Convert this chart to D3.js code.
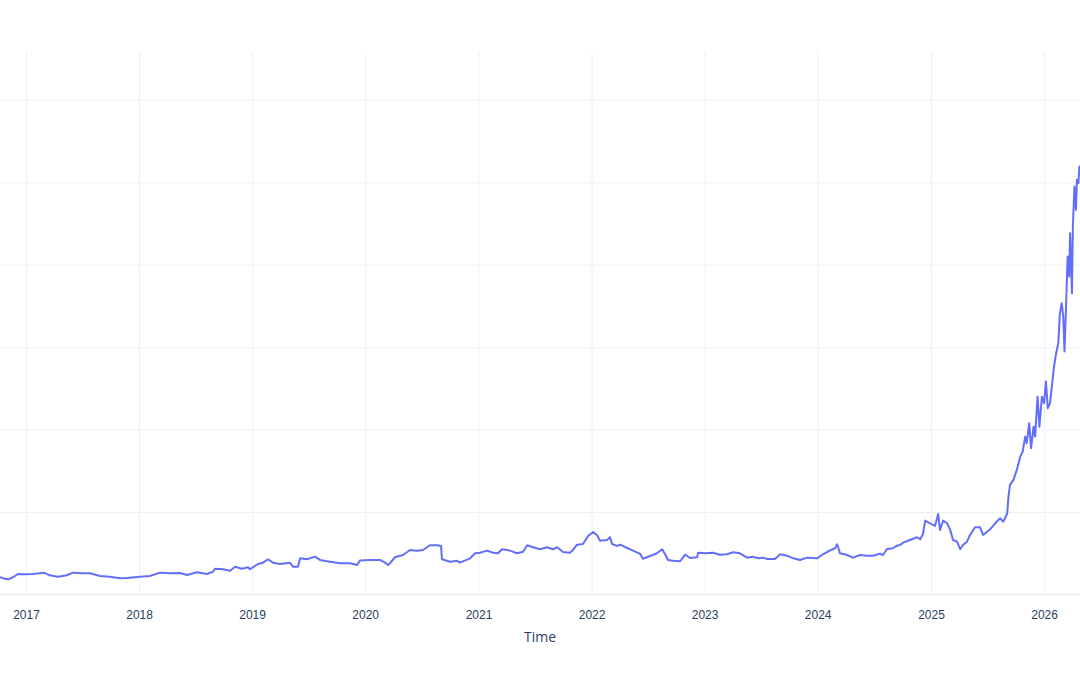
<!DOCTYPE html>
<html>
<head>
<meta charset="utf-8">
<script src="https://cdn.jsdelivr.net/npm/d3@7"></script>
<style>
  body { margin:0; background:#fff; }
  svg { display:block; font-family:"Open Sans", verdana, arial, sans-serif; }
</style>
</head>
<body>
<script>
// roughly one point per couple of weeks (denser at the end)
var dates = [
  "2016-10-09","2016-10-25","2016-11-04","2016-11-20","2016-12-06","2016-12-29",
  "2017-01-23","2017-02-28","2017-03-19","2017-04-14","2017-05-13","2017-06-02","2017-07-04","2017-07-27",
  "2017-08-28","2017-09-29","2017-10-31","2017-11-23",
  "2018-01-04","2018-02-05","2018-03-10","2018-04-11","2018-05-13","2018-06-05","2018-07-07","2018-08-08",
  "2018-08-28","2018-09-03","2018-09-29","2018-10-22","2018-11-07","2018-11-29","2018-12-19","2018-12-25",
  "2019-01-20","2019-02-05","2019-02-21","2019-03-09","2019-04-01","2019-05-03","2019-05-13","2019-05-29",
  "2019-06-05","2019-06-27","2019-07-23","2019-08-08","2019-09-09","2019-10-12","2019-11-13","2019-12-06","2019-12-15",
  "2020-01-17","2020-02-18","2020-03-05","2020-03-15","2020-03-21","2020-04-06","2020-05-02","2020-05-25",
  "2020-06-16","2020-07-06","2020-07-28","2020-08-20","2020-09-02","2020-09-05","2020-10-01","2020-10-24",
  "2020-11-02","2020-12-05","2020-12-21",
  "2021-01-06","2021-01-28","2021-02-17","2021-03-05","2021-03-18","2021-04-13","2021-05-05","2021-05-25",
  "2021-06-07","2021-06-26","2021-07-19","2021-08-10","2021-08-30","2021-09-12","2021-10-01","2021-10-23",
  "2021-11-02","2021-11-15","2021-12-04","2021-12-21",
  "2022-01-06","2022-01-19","2022-01-28","2022-02-20","2022-03-02","2022-03-08","2022-03-24","2022-04-03",
  "2022-04-26","2022-05-15","2022-06-07","2022-06-16","2022-07-09","2022-07-31","2022-08-17","2022-08-26",
  "2022-09-05","2022-09-21","2022-10-14","2022-10-30","2022-11-15","2022-12-08","2022-12-11",
  "2023-01-02","2023-01-28","2023-02-20","2023-03-14","2023-04-03","2023-04-25","2023-05-18","2023-06-06",
  "2023-06-23","2023-07-09","2023-07-22","2023-08-16","2023-09-02","2023-09-24","2023-10-14","2023-11-05",
  "2023-11-28","2023-12-30",
  "2024-01-18","2024-02-10","2024-02-26","2024-03-04","2024-03-13","2024-04-05","2024-04-24","2024-05-17",
  "2024-06-08","2024-06-28","2024-07-20","2024-07-30","2024-08-12","2024-08-31","2024-09-13","2024-09-23",
  "2024-10-03","2024-10-25","2024-11-17","2024-11-27","2024-12-06","2024-12-13","2024-12-29",
  "2025-01-14","2025-01-24","2025-01-30","2025-02-09","2025-02-22","2025-03-04","2025-03-13","2025-03-26",
  "2025-04-05","2025-04-14","2025-04-27","2025-05-07","2025-05-23","2025-06-08","2025-06-18","2025-07-01",
  "2025-07-11","2025-07-27","2025-08-12","2025-08-22","2025-08-28","2025-09-04","2025-09-08","2025-09-13",
  "2025-09-24","2025-10-05","2025-10-16","2025-10-24","2025-11-01","2025-11-06","2025-11-14","2025-11-20",
  "2025-11-28","2025-12-03","2025-12-11","2025-12-17","2025-12-25",
  "2026-01-01","2026-01-07","2026-01-13","2026-01-20","2026-01-26","2026-02-02","2026-02-09","2026-02-16",
  "2026-02-21","2026-02-27","2026-03-04","2026-03-08","2026-03-13","2026-03-18","2026-03-23","2026-03-26",
  "2026-04-01","2026-04-04","2026-04-09","2026-04-14","2026-04-17","2026-04-22","2026-04-25","2026-04-27"
];

var prices = [
  20.9,19.2,18.4,20.9,24.9,24.5,
  24.9,26.5,23.3,21.6,23.3,26.5,25.7,25.7,
  22.5,21.6,19.7,20.0,
  21.6,22.5,26.5,25.7,26.0,23.7,26.9,24.9,
  27.7,31.3,30.6,28.9,33.7,31.3,33.0,30.6,
  37.0,38.6,42.7,38.6,37.0,38.6,33.7,33.7,
  43.9,42.7,45.9,41.9,39.8,37.9,37.9,35.8,41.3,
  41.9,41.9,38.6,35.8,37.9,45.1,47.9,54.0,
  53.2,54.0,59.7,59.7,58.9,42.7,39.8,41.0,
  38.6,43.9,50.0,
  50.7,53.2,50.7,50.0,54.9,53.2,50.0,51.9,
  59.7,57.3,54.9,57.3,54.9,57.3,51.6,50.7,
  54.0,60.4,61.3,71.0,
  75.8,71.8,65.3,66.1,69.4,61.3,58.9,60.4,
  56.4,53.2,49.2,43.4,46.7,50.0,54.9,49.2,
  41.9,41.0,40.3,48.3,44.3,45.1,50.7,
  50.0,50.7,48.3,48.8,51.2,50.0,44.7,45.9,
  43.9,44.7,43.1,43.1,48.8,47.1,43.9,41.9,
  44.7,43.9,
  48.8,53.6,56.1,60.9,50.0,47.9,44.7,47.9,
  47.1,47.1,49.5,47.9,55.2,56.1,59.2,60.1,
  62.9,66.1,69.4,67.0,73.4,89.6,86.4,
  83.1,97.7,78.3,89.6,86.4,78.3,66.1,64.1,
  54.9,60.1,64.1,72.2,81.6,81.6,72.2,76.2,
  79.1,86.4,92.5,88.3,92.5,98.5,118.7,132.9,
  139.0,151.1,167.2,173.3,191.5,183.5,207.8,177.4,
  203.6,191.5,240.0,203.6,240.0,
  232.0,258.3,226.0,232.0,252.2,276.5,292.7,304.9,
  341.3,353.4,337.1,294.7,349.3,410.0,385.7,438.3,
  365.5,446.4,494.9,466.6,503.0,499.0,519.2,512.7
];

var yTicks = [100,200,300,400,500,600];
var yearTicks = ["2017","2018","2019","2020","2021","2022","2023","2024","2025","2026"];
var xTitle = "Time";

var width = 1080;
var height = 675;

var margins = {
  top:52,
  bottom:80.5,
  left:0,
  right:0
}

var parseDate = d3.timeParse("%Y-%m-%d");

var drawChart = function()
{
  var data = dates.map(function(d,i){
    return {date:parseDate(d), price:prices[i]};
  });

  var svg = d3.select("body").append("svg")
              .attr("width",width)
              .attr("height",height);

  var plotW = width - margins.left - margins.right;
  var plotH = height - margins.top - margins.bottom;

  var xScale = d3.scaleTime()
                 .domain(d3.extent(data,function(d){return d.date;}))
                 .range([0,plotW]);
  var yScale = d3.scaleLinear()
                 .domain([0,658])
                 .range([plotH,0]);

  var plot = svg.append("g")
    .attr("transform","translate("+margins.left+","+margins.top+")");

  svg.append("defs").append("clipPath").attr("id","clip")
    .append("rect")
    .attr("width",plotW)
    .attr("height",plotH);

  // horizontal grid
  var yAxis = d3.axisLeft(yScale)
                .tickValues(yTicks)
                .tickSize(-plotW)
                .tickFormat("");
  plot.append("g").classed("yGrid",true)
      .call(yAxis)
      .call(function(g){
        g.select(".domain").remove();
        g.selectAll(".tick line").attr("stroke","#EBF0F8").attr("stroke-width",1);
      });

  // vertical grid + year labels
  var yearDates = yearTicks.map(function(y){ return parseDate(y+"-01-01"); });
  var xAxis = d3.axisBottom(xScale)
                .tickValues(yearDates)
                .tickSize(-plotH)
                .tickPadding(0)
                .tickFormat(function(d,i){ return yearTicks[i]; });
  plot.append("g").classed("xAxis",true)
      .attr("transform","translate(0,"+plotH+")")
      .call(xAxis)
      .call(function(g){
        g.select(".domain").remove();
        g.selectAll(".tick line").attr("stroke","#EBF0F8").attr("stroke-width",1);
        g.selectAll(".tick text")
          .attr("y",24.5)
          .attr("dy",null)
          .attr("fill","#2a3f5f")
          .style("font-size","12px");
      });

  // zero line
  plot.append("line")
      .attr("x1",0)
      .attr("x2",plotW)
      .attr("y1",yScale(0))
      .attr("y2",yScale(0))
      .attr("stroke","#EBF0F8")
      .attr("stroke-width",2);

  var line = d3.line()
    .x(function(d){ return xScale(d.date); })
    .y(function(d){ return yScale(d.price); });

  plot.append("path")
      .datum(data)
      .attr("clip-path","url(#clip)")
      .attr("fill","none")
      .attr("stroke","#636efa")
      .attr("stroke-width",2)
      .attr("stroke-linejoin","round")
      .attr("d",line);

  svg.append("text")
     .attr("x",margins.left+plotW/2)
     .attr("y",642)
     .attr("text-anchor","middle")
     .attr("fill","#2a3f5f")
     .style("font-size","14px")
     .text(xTitle);
}

drawChart();
</script>
</body>
</html>
